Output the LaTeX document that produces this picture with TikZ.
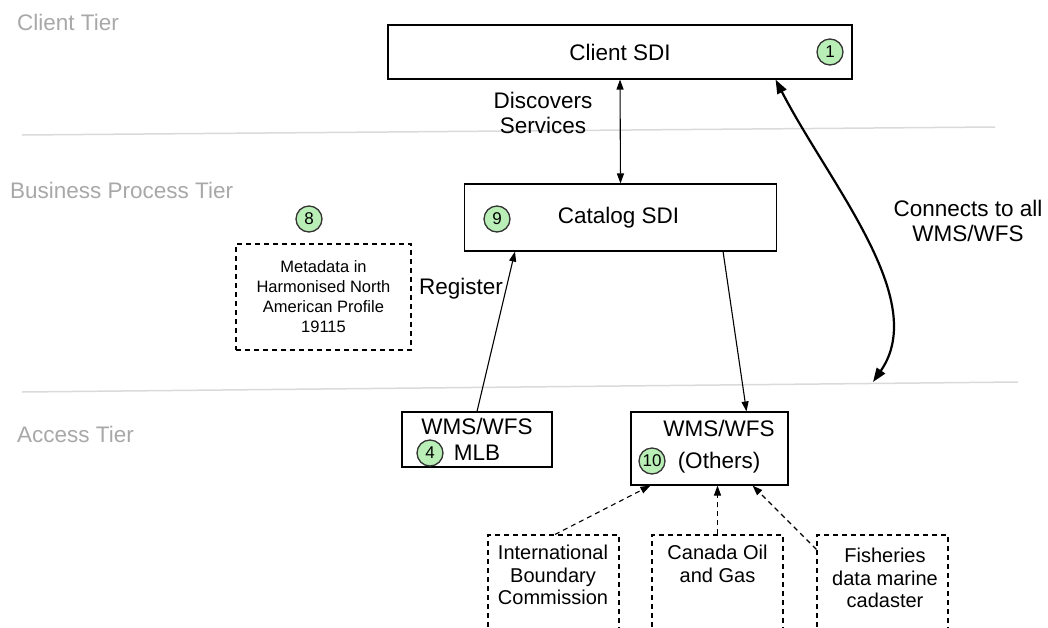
\documentclass[tikz,border=0pt]{standalone}
\usepackage{fontspec}
\setmainfont{Liberation Sans}
\usetikzlibrary{arrows.meta,calc,positioning}
\definecolor{tiergray}{RGB}{168,168,168}
\definecolor{tierrule}{RGB}{218,218,218}
\definecolor{numgreen}{RGB}{185,238,182}

\begin{document}
\begin{tikzpicture}[x=1pt,y=-1pt,
    box/.style={draw,line width=1.1pt,inner sep=0pt,font=\fontsize{22.5}{25}\selectfont},
    dbox/.style={box,dash pattern=on 5pt off 4pt},
    num/.style={circle,draw=black!80,line width=1.3pt,fill=numgreen,minimum size=26pt,inner sep=0pt,font=\fontsize{17}{17}\selectfont},
    tier/.style={anchor=west,inner sep=0pt,text=tiergray,font=\fontsize{22.5}{25}\selectfont},
    lbl/.style={align=center,inner sep=0pt,font=\fontsize{22.5}{25}\selectfont},
    small/.style={align=center,inner sep=0pt,anchor=north,font=\fontsize{20}{22.5}\selectfont},
    arr/.style={-{Triangle[length=10pt,width=7pt]},line width=1.1pt},
    darr/.style={arr,dash pattern=on 5pt off 4pt}]
    \useasboundingbox (0,0) rectangle (1048,627);
    \clip (0,0) rectangle (1048,627);

    % tiers
    \draw[tierrule,line width=1.5pt] (22,135) -- (995,127);
    \draw[tierrule,line width=1.5pt] (22,392) -- (1018,382);
    \node[tier] (t1) at (17,22) {Client Tier};
    \node[tier] (t2) at (10,190) {Business Process Tier};
    \node[tier] (t3) at (17,434) {Access Tier};

    \node[box,minimum width=464pt,minimum height=54pt] (client) at (620,52) {Client SDI};
    \node[box,minimum width=312pt,minimum height=67pt] (catalog) at (620.5,217.5) {\hspace*{-4pt}Catalog SDI};
    \node[dbox,minimum width=175pt,minimum height=106pt,align=center,
          font=\fontsize{16.5}{20}\selectfont] (meta) at (323.5,297)
          {Metadata in\\Harmonised North\\American Profile\\19115};
    \node[box,minimum width=150pt,minimum height=55pt,align=center] (mlb) at (477,439.5)
          {WMS/WFS\\[1pt]MLB};
    \node[box,minimum width=157pt,minimum height=73pt] (others) at (709.5,448.5) {};
    \node[lbl,font=\fontsize{22.5}{32}\selectfont] (otherstxt) at (719,447) {WMS/WFS\\(Others)};

    \node[dbox,minimum width=131pt,minimum height=110pt] (ibc) at (553.5,590) {};
    \node[dbox,minimum width=131pt,minimum height=110pt] (oil) at (717.5,590) {};
    \node[dbox,minimum width=131pt,minimum height=110pt] (fish) at (882.5,590) {};
    \node[small] (ibctxt) at (553,545) {International\\Boundary\\Commission};
    \node[small] (oiltxt) at (717.5,545) {Canada Oil\\and Gas};
    \node[small] (fishtxt) at (885,548) {Fisheries\\data marine\\cadaster};

    \node[num] (n1) at (830,52) {1};
    \node[num] (n9) at (497,219) {9};
    \node[num] (n8) at (309,219) {8};
    \node[num] (n4) at (430,453) {4};
    \node[num] (n10) at (652,461) {10};

    \node[lbl] (disc) at (543,113) {Discovers\\Services};
    \node[lbl] (reg) at (461,289) {Register};
    \node[lbl] (conn) at (968,221) {Connects to all\\WMS/WFS};

    \draw[arr,{Triangle[length=10pt,width=7pt]}-{Triangle[length=10pt,width=7pt]}] (client.south) -- (catalog.north);
    \draw[arr] (mlb.north) -- ($(catalog.south west)+(51,0)$);
    \draw[arr] ($(catalog.south east)+(-54,0)$) -- ($(others.north)+(37,0)$);
    \coordinate (acc) at (873,382);
    \draw[line width=2.2pt,{Triangle[length=14pt,width=10pt]}-{Triangle[length=14pt,width=10pt]}]
        (acc) .. controls (930,300) and (830,185) .. ($(client.south east)+(-77,0)$);

    \draw[darr] ($(ibc.north)+(1.5,0)$) -- ($(others.south west)+(20,0)$);
    \draw[darr] (oil.north) -- (oil.north |- others.south);
    \draw[darr] ($(fish.north west)+(0,15)$) -- ($(others.south east)+(-36,0)$);
\end{tikzpicture}
\end{document}
